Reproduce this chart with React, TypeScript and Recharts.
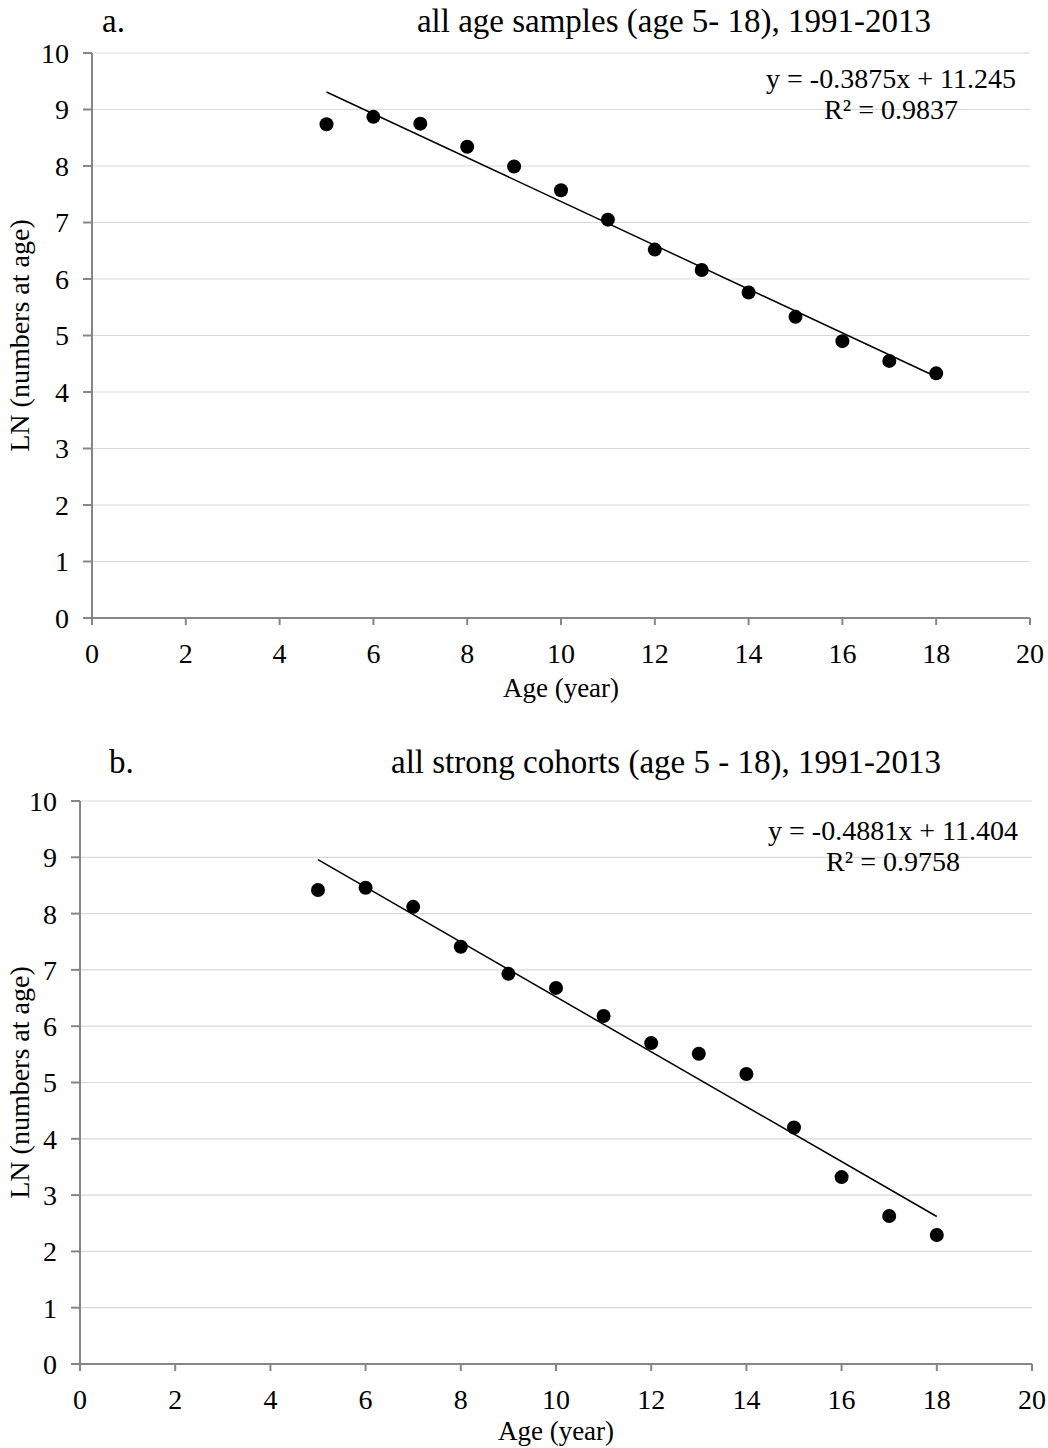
import React from 'react'
import { ScatterChart, Scatter, XAxis, YAxis, CartesianGrid } from 'recharts'

// panel a: all age samples
const agesA = [5, 6, 7, 8, 9, 10, 11, 12, 13, 14, 15, 16, 17, 18]
const lnA = [8.74, 8.87, 8.75, 8.34, 7.99, 7.57, 7.05, 6.52, 6.16, 5.76, 5.33, 4.9, 4.55, 4.33]
const trendXA = [5, 18]
const trendYA = [9.31, 4.27]

// panel b: all strong cohorts
const agesB = [5, 6, 7, 8, 9, 10, 11, 12, 13, 14, 15, 16, 17, 18]
const lnB = [8.42, 8.46, 8.12, 7.41, 6.93, 6.68, 6.18, 5.7, 5.51, 5.15, 4.2, 3.32, 2.63, 2.29]
const trendXB = [5, 18]
const trendYB = [8.96, 2.62]

const xTicks = [0, 2, 4, 6, 8, 10, 12, 14, 16, 18, 20]
const yTicks = [0, 1, 2, 3, 4, 5, 6, 7, 8, 9, 10]

const FONT = '"Liberation Serif", "Times New Roman", serif'
const AXIS = '#868686'
const GRID = '#d9d9d9'

interface PanelProps {
  ages: number[]
  ln: number[]
  trendX: number[]
  trendY: number[]
  letter: string
  title: string
  equation: string
  r2: string
  top: number
  marginTop: number
  yAxisWidth: number
  xAxisHeight: number
  rightMargin: number
  letterX: number
  titleX: number
  titleY: number
  eqX: number
  eqY: number
  xLabelY: number
}

function Dot(props: any) {
  const { cx, cy } = props
  return <circle cx={cx} cy={cy} r={7} fill="#000" />
}

function Panel(p: PanelProps) {
  const width = 1048
  const height = 724
  const points = p.ages.map((a, i) => ({ x: a, y: p.ln[i] }))
  const trend = p.trendX.map((a, i) => ({ x: a, y: p.trendY[i] }))
  const plotTop = p.marginTop
  const plotBottom = height - p.xAxisHeight
  const plotLeft = p.yAxisWidth
  const plotRight = width - p.rightMargin
  const midY = (plotTop + plotBottom) / 2
  const midX = (plotLeft + plotRight) / 2

  return (
    <div style={{ position: 'absolute', left: 0, top: p.top }}>
      <ScatterChart
        width={width}
        height={height}
        margin={{ top: p.marginTop, right: p.rightMargin, bottom: 0, left: 0 }}
      >
        <CartesianGrid vertical={false} stroke={GRID} strokeWidth={1.2} />
        <XAxis
          type="number"
          dataKey="x"
          domain={[0, 20]}
          ticks={xTicks}
          height={p.xAxisHeight}
          stroke={AXIS}
          strokeWidth={2}
          tickSize={7}
          tickMargin={18}
          tick={{ fill: '#000', fontSize: 28, fontFamily: FONT }}
        />
        <YAxis
          type="number"
          dataKey="y"
          domain={[0, 10]}
          ticks={yTicks}
          width={p.yAxisWidth}
          stroke={AXIS}
          strokeWidth={2}
          tickSize={9}
          tickMargin={14}
          tick={{ fill: '#000', fontSize: 28, fontFamily: FONT }}
        />
        <Scatter
          data={trend}
          line={{ stroke: '#000', strokeWidth: 1.5 }}
          shape={() => null}
          isAnimationActive={false}
        />
        <Scatter data={points} shape={Dot} isAnimationActive={false} />
        <text x={p.letterX} y={p.titleY} fontSize={33} fontFamily={FONT} fill="#000">
          {p.letter}
        </text>
        <text x={p.titleX} y={p.titleY} fontSize={33} fontFamily={FONT} fill="#000" textAnchor="middle">
          {p.title}
        </text>
        <text x={p.eqX} y={p.eqY} fontSize={28} fontFamily={FONT} fill="#000" textAnchor="middle">
          {p.equation}
        </text>
        <text x={p.eqX} y={p.eqY + 31} fontSize={28} fontFamily={FONT} fill="#000" textAnchor="middle">
          {p.r2}
        </text>
        <text
          x={29}
          y={midY}
          fontSize={28}
          fontFamily={FONT}
          fill="#000"
          textAnchor="middle"
          transform={`rotate(-90 29 ${midY})`}
        >
          LN (numbers at age)
        </text>
        <text x={midX} y={p.xLabelY} fontSize={27} fontFamily={FONT} fill="#000" textAnchor="middle">
          Age (year)
        </text>
      </ScatterChart>
    </div>
  )
}

export default function App() {
  return (
    <div style={{ position: 'absolute', left: 0, top: 0, width: 1048, height: 1448, background: '#fff' }}>
      <Panel
        ages={agesA}
        ln={lnA}
        trendX={trendXA}
        trendY={trendYA}
        letter="a."
        title="all age samples (age 5- 18), 1991-2013"
        equation="y = -0.3875x + 11.245"
        r2="R² = 0.9837"
        top={0}
        marginTop={53}
        yAxisWidth={92}
        xAxisHeight={106}
        rightMargin={18}
        letterX={102}
        titleX={674}
        titleY={32}
        eqX={891}
        eqY={88}
        xLabelY={697}
      />
      <Panel
        ages={agesB}
        ln={lnB}
        trendX={trendXB}
        trendY={trendYB}
        letter="b."
        title="all strong cohorts (age 5 - 18), 1991-2013"
        equation="y = -0.4881x + 11.404"
        r2="R² = 0.9758"
        top={724}
        marginTop={77}
        yAxisWidth={80}
        xAxisHeight={84}
        rightMargin={16}
        letterX={109}
        titleX={666}
        titleY={49}
        eqX={893}
        eqY={116}
        xLabelY={716}
      />
    </div>
  )
}
